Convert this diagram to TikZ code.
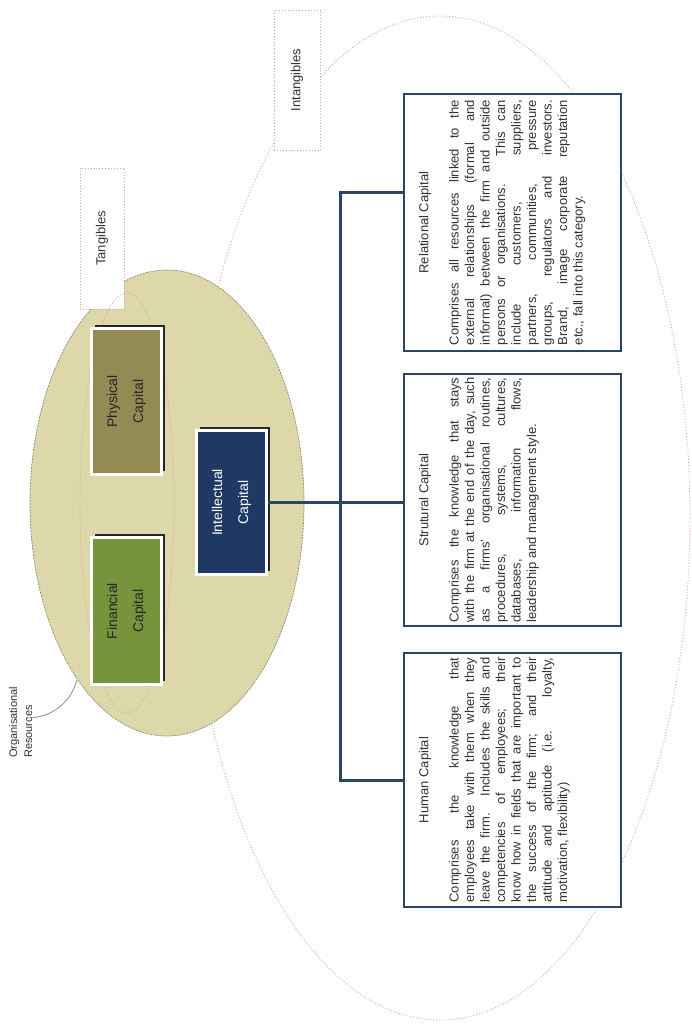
\documentclass[tikz,border=0pt]{standalone}
\usepackage{fontspec}
\setmainfont{Liberation Sans}
\usetikzlibrary{shadows}

\definecolor{tanfill}{HTML}{DCD8AA}
\definecolor{tanedge}{HTML}{8E8B78}
\definecolor{physfill}{HTML}{948A54}
\definecolor{finfill}{HTML}{77933C}
\definecolor{intfill}{HTML}{1F3864}
\definecolor{navy}{HTML}{2A4468}
\definecolor{pinkdot}{HTML}{E0A0A0}
\definecolor{bodytext}{HTML}{333333}

% one justified line of a description
\newcommand{\jl}[1]{\makebox[245pt][s]{#1}\\}

\begin{document}
\begin{tikzpicture}[x=1pt,y=-1pt,
  capbox/.style={draw=white, line width=3pt, inner sep=0pt,
    drop shadow={shadow xshift=3.5pt, shadow yshift=3.5pt, opacity=1, fill=black!85}},
  caplabel/.style={rotate=90, align=center, font=\fontsize{14}{26}\selectfont},
  infobox/.style={draw=navy, line width=2.5pt, fill=white, inner sep=0pt, minimum width=217pt},
  infotitle/.style={rotate=90, inner sep=0pt, font=\fontsize{13}{15}\selectfont, text=bodytext},
  infobody/.style={rotate=90, anchor=north, align=left, inner sep=0pt,
    font=\fontsize{13}{15.5}\selectfont, text=bodytext},
  conn/.style={draw=navy, line width=3pt},
  tagbox/.style={draw=pinkdot, dotted, line width=0.9pt, fill=white, inner sep=0pt},
  taglabel/.style={rotate=90, font=\fontsize{13}{15}\selectfont, text=bodytext},
  pinkring/.style={draw=pinkdot, dotted, line width=0.9pt},
  callout/.style={draw=black!45, line width=0.8pt}
]
% page
\fill[white] (0,0) rectangle (691,1025);
\useasboundingbox (0,0) rectangle (691,1025);

% intangibles region
\draw[pinkring] (440,518) ellipse [x radius=250pt, y radius=502pt];
\node[tagbox, minimum width=46pt, minimum height=140pt] (intbox) at (297,80) {};
\node[taglabel] (intlab) at (intbox.center) {Intangibles};

% organisational resources
\draw[fill=tanfill, draw=tanedge, dashed, dash pattern=on 2pt off 1pt, line width=0.7pt]
  (167,503) ellipse [x radius=137pt, y radius=233pt];

% tangibles region
\node[tagbox, minimum width=44pt, minimum height=141pt] (tanbox) at (102,238.5) {};
\node[taglabel] (tanlab) at (tanbox.center) {Tangibles};
\draw[pinkring] (127,503) ellipse [x radius=47pt, y radius=210pt];

% capital blocks
\node[capbox, fill=physfill, minimum width=70pt, minimum height=146pt] (phys) at (126.5,401.5) {};
\node[caplabel, text=black!85] at (phys.center) {Physical\\Capital};
\node[capbox, fill=finfill, minimum width=70pt, minimum height=147pt] (fin) at (126.5,611) {};
\node[caplabel, text=black!85] at (fin.center) {Financial\\Capital};
\node[capbox, fill=intfill, minimum width=70pt, minimum height=144pt] (ic) at (231.5,502.5) {};
\node[caplabel, text=white] at (ic.center) {Intellectual\\Capital};

% description boxes
\node[infobox, minimum height=257pt] (rel) at (512.5,222.5) {};
\node[infobox, minimum height=252pt] (str) at (512.5,500) {};
\node[infobox, minimum height=254pt] (hum) at (512.5,780) {};

\node[infotitle] at (425,222.5) {Relational Capital};
\node[infotitle] at (425,500) {Strutural Capital};
\node[infotitle] at (425,780) {Human Capital};

\node[infobody] at (449,222.5) {%
\jl{Comprises all resources linked to the}
\jl{external relationships (formal and}
\jl{informal) between the firm and outside}
\jl{persons or organisations. This can}
\jl{include customers, suppliers,}
\jl{partners, communities, pressure}
\jl{groups, regulators and investors.}
\jl{Brand, image corporate reputation}
etc., fall into this category.};

\node[infobody] at (449,500) {%
\jl{Comprises the knowledge that stays}
\jl{with the firm at the end of the day, such}
\jl{as a firms' organisational routines,}
\jl{procedures, systems, cultures,}
\jl{databases, information flows,}
leadership and management style.};

\node[infobody] at (449,780) {%
\jl{Comprises the knowledge that}
\jl{employees take with them when they}
\jl{leave the firm. Includes the skills and}
\jl{competencies of employees; their}
\jl{know how in fields that are important to}
\jl{the success of the firm; and their}
\jl{attitude and aptitude (i.e. loyalty,}
motivation, flexibility)};

% connectors
\coordinate (trunk) at (340,0);
\coordinate (relin) at ([yshift=30pt]rel.west);
\draw[conn] (relin) -- (relin -| trunk) -- (hum.west -| trunk) -- (hum.west);
\draw[conn] (ic.east) -- (ic.east -| str.west);

% label with its callout
\node[rotate=90, anchor=north west, align=left, inner sep=0pt,
  font=\fontsize{11}{15}\selectfont, text=bodytext] (orglab) at (9,758)
  {Organisational\\Resources};
\coordinate (callstart) at (27,718);
\coordinate (callend) at (77,680);
\draw[callout] (callstart) .. controls (52,718) and (71,702) .. (callend);
\end{tikzpicture}
\end{document}
